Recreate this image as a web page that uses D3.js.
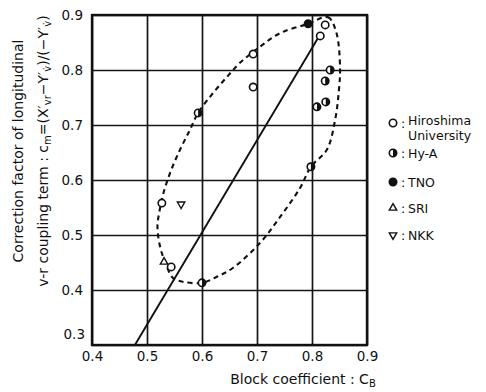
<!DOCTYPE html>
<html>
<head>
<meta charset="utf-8">
<script src="https://cdn.jsdelivr.net/npm/d3@7"></script>
<style>
  body { margin: 0; background: #fff; }
  text { font-family: "DejaVu Sans", sans-serif; fill: #111; }
</style>
</head>
<body>
<svg id="chart" width="486" height="392"></svg>
<script>
var xTicks = [0.4, 0.5, 0.6, 0.7, 0.8, 0.9];
var yTicks = [0.3, 0.4, 0.5, 0.6, 0.7, 0.8, 0.9];

// measured points, [Cb, cm]
var hiroshima = [[0.824, 0.882], [0.815, 0.862], [0.693, 0.829], [0.693, 0.769], [0.527, 0.558], [0.544, 0.442]];
var hyA = [[0.833, 0.80], [0.824, 0.78], [0.825, 0.742], [0.809, 0.733], [0.798, 0.624], [0.593, 0.722], [0.60, 0.413]];
var tno = [[0.793, 0.884]];
var sri = [[0.531, 0.451]];
var nkk = [[0.562, 0.556]];

// solid regression line and dashed envelope
var fitLine = [[0.478, 0.30], [0.815, 0.865]];
var envelope = [
    [0.793, 0.884], [0.829, 0.896], [0.844, 0.869], [0.851, 0.805], [0.849, 0.764],
    [0.842, 0.709], [0.827, 0.655], [0.798, 0.624], [0.778, 0.585], [0.742, 0.533],
    [0.705, 0.485], [0.656, 0.440], [0.627, 0.424], [0.600, 0.413], [0.565, 0.415],
    [0.547, 0.422], [0.533, 0.451], [0.524, 0.478], [0.519, 0.515], [0.523, 0.545],
    [0.529, 0.573], [0.542, 0.613], [0.560, 0.655], [0.578, 0.691], [0.593, 0.722],
    [0.620, 0.758], [0.645, 0.787], [0.669, 0.813], [0.705, 0.842], [0.742, 0.867]
];

var svg = d3.select("#chart"),
    margin = {top: 15, right: 119, bottom: 47, left: 92},
    width = 486 - margin.left - margin.right,
    height = 392 - margin.top - margin.bottom,
    g = svg.append("g").attr("transform", "translate(" + margin.left + "," + margin.top + ")");

var x = d3.scaleLinear().domain([0.4, 0.9]).range([0, width]),
    y = d3.scaleLinear().domain([0.3, 0.9]).range([height, 0]);

// grid + ticks
var xAxis = g.append("g")
    .attr("transform", "translate(0," + height + ")")
    .call(d3.axisBottom(x).tickValues(xTicks).tickSize(-height).tickPadding(6).tickFormat(d3.format(".1f")));
var yAxis = g.append("g")
    .call(d3.axisLeft(y).tickValues(yTicks).tickSize(-width).tickPadding(9).tickFormat(d3.format(".1f")));

[xAxis, yAxis].forEach(function(a) {
    a.select(".domain").remove();
    a.selectAll("line").attr("stroke", "#151515").attr("stroke-width", 1.7);
    a.selectAll("text").style("font-size", "13.5px").attr("fill", "#111");
});
xAxis.selectAll(".tick text").attr("dy", "0.71em");
// lowest y label sits a bit higher than its line
yAxis.selectAll(".tick text").filter(function(d) { return d === 0.3; }).attr("dy", "-0.5em").attr("x", -7);

g.append("rect")
    .attr("width", width).attr("height", height)
    .attr("fill", "none").attr("stroke", "#111").attr("stroke-width", 2.4);

var line = d3.line()
    .x(function(d) { return x(d[0]); })
    .y(function(d) { return y(d[1]); });

g.append("path")
    .attr("d", line(fitLine))
    .attr("fill", "none").attr("stroke", "#111").attr("stroke-width", 1.9);

g.append("path")
    .attr("d", d3.line().x(function(d) { return x(d[0]); }).y(function(d) { return y(d[1]); })
        .curve(d3.curveCatmullRomClosed)(envelope))
    .attr("fill", "none").attr("stroke", "#111").attr("stroke-width", 2.1)
    .attr("stroke-dasharray", "5,4");

var r = 3.7;
var halfArc = d3.arc().innerRadius(0).outerRadius(r).startAngle(0).endAngle(Math.PI);

function drawCircle(sel, kind) {
    sel.append("circle").attr("r", r)
        .attr("fill", kind === "full" ? "#111" : "#fff")
        .attr("stroke", "#111").attr("stroke-width", 1.6);
    if (kind === "half") sel.append("path").attr("d", halfArc()).attr("fill", "#111");
}
function drawTri(sel, down) {
    sel.append("path")
        .attr("d", d3.symbol(d3.symbolTriangle, 24)())
        .attr("transform", down ? "rotate(180)" : null)
        .attr("fill", "#fff").attr("stroke", "#111").attr("stroke-width", 1.4);
}

function plot(data, draw) {
    g.selectAll(null).data(data).enter().append("g")
        .attr("transform", function(d) { return "translate(" + x(d[0]) + "," + y(d[1]) + ")"; })
        .each(function() { draw(d3.select(this)); });
}
plot(hiroshima, function(s) { drawCircle(s, "open"); });
plot(hyA, function(s) { drawCircle(s, "half"); });
plot(tno, function(s) { drawCircle(s, "full"); });
plot(sri, function(s) { drawTri(s, false); });
plot(nkk, function(s) { drawTri(s, true); });

// legend
var legend = [
    {label: "Hiroshima", y: 123, draw: function(s) { drawCircle(s, "open"); }},
    {label: "Hy-A", y: 153, draw: function(s) { drawCircle(s, "half"); }},
    {label: "TNO", y: 182, draw: function(s) { drawCircle(s, "full"); }},
    {label: "SRI", y: 208, draw: function(s) { drawTri(s, false); }},
    {label: "NKK", y: 235, draw: function(s) { drawTri(s, true); }}
];
legend.forEach(function(l, i) {
    var item = svg.append("g").attr("transform", "translate(393," + l.y + ")");
    l.draw(item);
    var dy = i === 0 ? "0.15em" : "0.36em";
    item.append("text").attr("x", 8).attr("dy", "0.36em").style("font-size", "12.5px").text(":");
    item.append("text").attr("x", 15).attr("dy", dy).style("font-size", "12.5px").text(l.label);
});
svg.append("text").attr("x", 408).attr("y", 140).style("font-size", "12.5px").text("University");

// axis titles
var xt = svg.append("text").attr("x", 303).attr("y", 384).attr("text-anchor", "middle").style("font-size", "14px");
xt.append("tspan").text("Block coefficient : C");
xt.append("tspan").attr("dy", 3).style("font-size", "10px").text("B");

var yt = svg.append("g").attr("transform", "translate(0,151) rotate(-90)");
yt.append("text").attr("y", 23).attr("text-anchor", "middle").style("font-size", "14px")
    .text("Correction factor of longitudinal");
var yt2 = yt.append("text").attr("y", 48).attr("text-anchor", "middle").style("font-size", "14px");
function sub(t) { yt2.append("tspan").attr("dy", 3).style("font-size", "10px").text(t); }
function main(t) { yt2.append("tspan").attr("dy", -3).text(t); }
yt2.append("tspan").text("v-r coupling term : c");
sub("m"); main("=(X\u2032"); sub("vr"); main("\u2212Y\u2032"); sub("v\u0307"); main(")/(\u2212Y\u2032"); sub("v\u0307"); main(")");
</script>
</body>
</html>
